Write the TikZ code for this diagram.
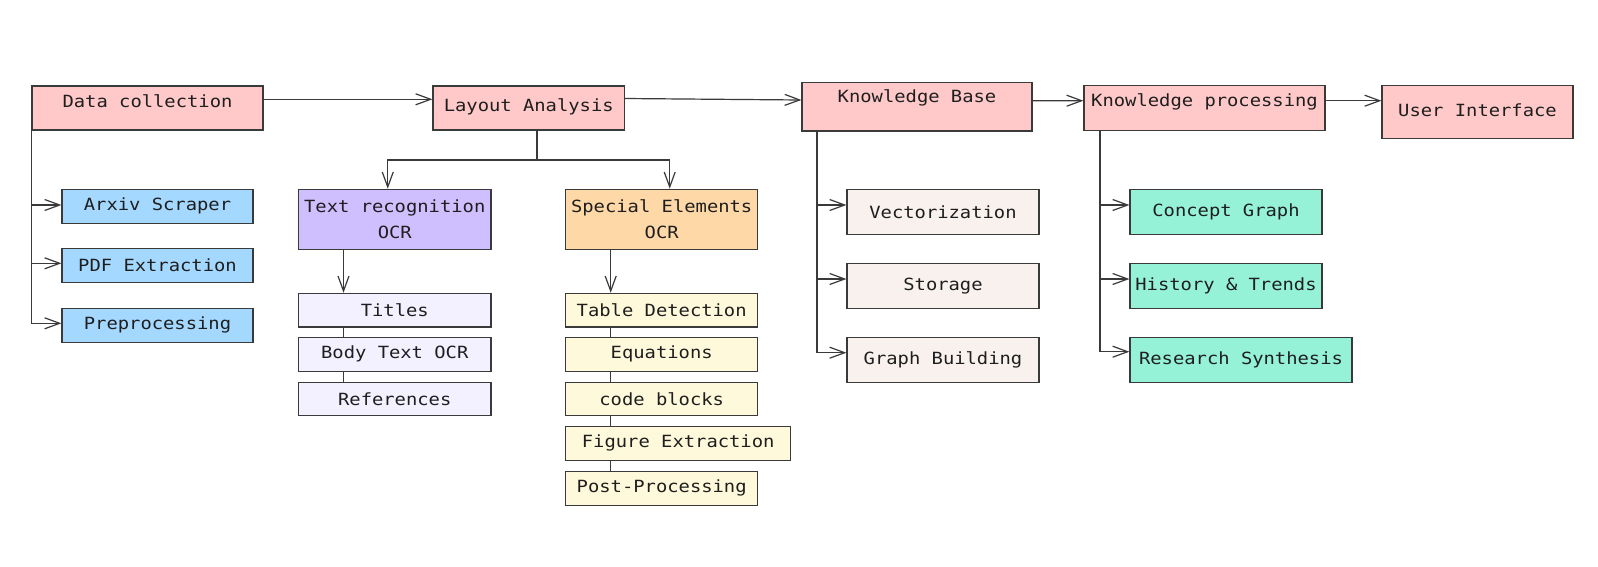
\documentclass[tikz,border=0pt]{standalone}
\usepackage{fontspec}
\newfontfamily\dfont[FakeStretch=1.12]{DejaVu Sans Mono}
\usetikzlibrary{arrows.meta,positioning,calc}
\definecolor{cPink}{HTML}{FFC9C9}
\definecolor{cBlue}{HTML}{A5D8FF}
\definecolor{cViolet}{HTML}{D0BFFF}
\definecolor{cOrange}{HTML}{FFD8A8}
\definecolor{cLav}{HTML}{F3F0FF}
\definecolor{cYel}{HTML}{FFF9DB}
\definecolor{cBeige}{HTML}{F8F1EE}
\definecolor{cTeal}{HTML}{96F2D7}
\definecolor{cLine}{HTML}{3A3A3A}
\definecolor{cText}{HTML}{1E1E1E}
\begin{document}
\begin{tikzpicture}[x=1pt,y=-1pt,
  box/.style={draw=cLine,line width=1.2pt,inner sep=0pt,text=cText,
    font=\dfont\fontsize{16.8}{26}\selectfont,align=center},
  mainbox/.style={box,fill=cPink},
  lbl/.style={text=cText,font=\dfont\fontsize{16.8}{26}\selectfont,inner sep=0pt},
  wire/.style={draw=cLine,line width=1.2pt},
  arr/.style={wire,-{Straight Barb[length=15pt,width=11pt,line width=1.2pt]}}
]
\useasboundingbox (0,0) rectangle (1598,566);
\fill[white] (0,0) rectangle (1598,566);

% main row
\node[mainbox,minimum width=231pt,minimum height=44pt,
  label={[lbl,yshift=7pt]center:Data collection}] (dc) at (147.5,108) {};
\node[mainbox,minimum width=191.5pt,minimum height=44pt,
  label={[lbl,yshift=1.5pt]center:Layout Analysis}] (la) at (528.75,108) {};
\node[mainbox,minimum width=230pt,minimum height=48.3pt,
  label={[lbl,yshift=8.5pt]center:Knowledge Base}] (kb) at (917,106.85) {};
\node[mainbox,minimum width=241pt,minimum height=44.6pt,
  label={[lbl,yshift=6.3pt]center:Knowledge processing}] (kp) at (1204.5,108) {};
\node[mainbox,minimum width=191pt,minimum height=52.6pt,
  label={[lbl,yshift=1.3pt]center:User Interface}] (ui) at (1477.5,112) {};

\draw[arr] ([yshift=8.7pt]dc.east) -- ([yshift=8.7pt]la.west);
\draw[arr] ([yshift=9.5pt]la.east) -- ([yshift=6.85pt]kb.west);
\draw[arr] ([yshift=6.15pt]kb.east) -- ([yshift=7.3pt]kp.west);
\draw[arr] ([yshift=7.3pt]kp.east) -- ([yshift=11.3pt]ui.west);

% data collection children
\node[box,fill=cBlue,minimum width=191pt,minimum height=34pt] (arx) at (157.5,206.3) {Arxiv Scraper};
\node[box,fill=cBlue,minimum width=191pt,minimum height=34pt] (pdf) at (157.5,265.3) {PDF Extraction};
\node[box,fill=cBlue,minimum width=191pt,minimum height=34pt] (pre) at (157.5,325.3) {Preprocessing};
\draw[arr] (dc.south west) |- ([yshift=1.3pt]arx.west);
\draw[arr] (dc.south west) |- ([yshift=2pt]pdf.west);
\draw[arr] (dc.south west) |- ([yshift=2pt]pre.west);

% layout analysis children
\coordinate (lsplit) at (537,160);
\node[box,fill=cViolet,minimum width=192.5pt,minimum height=60pt] (tr) at (394.75,219.3) {Text recognition\\OCR};
\node[box,fill=cOrange,minimum width=192pt,minimum height=60pt] (se) at (661.7,219.3) {Special Elements\\OCR};
\draw[wire] (la.south -| lsplit) -- (lsplit);
\draw[arr] (lsplit) -| ([xshift=-7pt]tr.north);
\draw[arr] (lsplit) -| ([xshift=8pt]se.north);

\coordinate (tx) at (343.5,0);
\node[box,fill=cLav,minimum width=192.5pt,minimum height=33.7pt] (tit) at (394.75,310.2) {Titles};
\node[box,fill=cLav,minimum width=192.5pt,minimum height=33.7pt] (bod) at (394.75,354.35) {Body Text OCR};
\node[box,fill=cLav,minimum width=192.5pt,minimum height=33.7pt] (ref) at (394.75,399) {References};
\draw[arr] (tr.south -| tx) -- (tit.north -| tx);
\draw[wire] (tit.south -| tx) -- (bod.north -| tx);
\draw[wire] (bod.south -| tx) -- (ref.north -| tx);

\coordinate (sx) at (610.7,0);
\node[box,fill=cYel,minimum width=192pt,minimum height=33.7pt] (td) at (661.7,310.2) {Table Detection};
\node[box,fill=cYel,minimum width=192pt,minimum height=33.7pt] (eq) at (661.7,354.35) {Equations};
\node[box,fill=cYel,minimum width=192pt,minimum height=33.7pt] (cb) at (661.7,399) {code blocks};
\node[box,fill=cYel,minimum width=225pt,minimum height=33.7pt] (fe) at (678.2,443.35) {Figure Extraction};
\node[box,fill=cYel,minimum width=192pt,minimum height=33.7pt] (pp) at (661.7,488.35) {Post-Processing};
\draw[arr] (se.south -| sx) -- (td.north -| sx);
\draw[wire] (td.south -| sx) -- (eq.north -| sx);
\draw[wire] (eq.south -| sx) -- (cb.north -| sx);
\draw[wire] (cb.south -| sx) -- (fe.north -| sx);
\draw[wire] (fe.south -| sx) -- (pp.north -| sx);

% knowledge base children
\coordinate (kbx) at (817,0);
\node[box,fill=cBeige,minimum width=192pt,minimum height=45pt] (vec) at (943,211.8) {Vectorization};
\node[box,fill=cBeige,minimum width=192pt,minimum height=45pt] (sto) at (943,285.8) {Storage};
\node[box,fill=cBeige,minimum width=192pt,minimum height=45pt] (gb) at (943,359.8) {Graph Building};
\draw[arr] (kb.south -| kbx) |- ([yshift=6.8pt]vec.west);
\draw[arr] (kb.south -| kbx) |- ([yshift=6.8pt]sto.west);
\draw[arr] (kb.south -| kbx) |- ([yshift=7.1pt]gb.west);

% knowledge processing children
\coordinate (kpx) at (1100,0);
\node[box,fill=cTeal,minimum width=192pt,minimum height=45pt] (cg) at (1226,211.8) {Concept Graph};
\node[box,fill=cTeal,minimum width=192pt,minimum height=45pt] (ht) at (1226,285.8) {History \& Trends};
\node[box,fill=cTeal,minimum width=222pt,minimum height=45pt] (rs) at (1241,359.8) {Research Synthesis};
\draw[arr] (kp.south -| kpx) |- ([yshift=6.8pt]cg.west);
\draw[arr] (kp.south -| kpx) |- ([yshift=6.8pt]ht.west);
\draw[arr] (kp.south -| kpx) |- ([yshift=8.1pt]rs.west);
\end{tikzpicture}
\end{document}
